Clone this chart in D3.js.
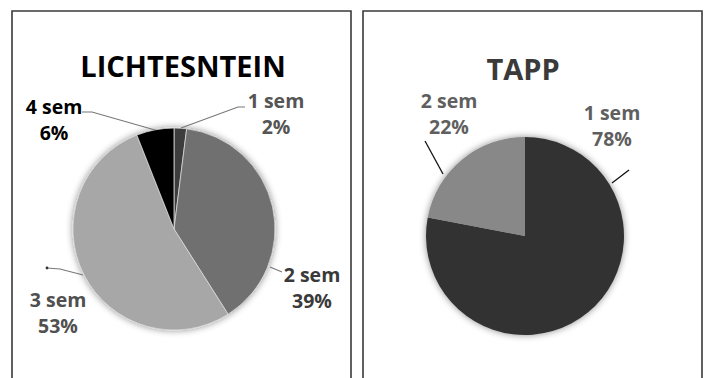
<!DOCTYPE html>
<html>
<head>
<meta charset="utf-8">
<script src="https://cdn.jsdelivr.net/npm/d3@7"></script>
<style>
  html, body { margin: 0; padding: 0; background: #fff; }
  svg { display: block; }
  text { font-family: "Open Sans", "Noto Sans", sans-serif; font-weight: bold; }
</style>
</head>
<body>
<svg id="chart" width="707" height="378"></svg>
<script>
// ---- data ----
const lichCategories = ["1 sem", "2 sem", "3 sem", "4 sem"];
const lichValues = [2, 39, 53, 6];
const tappCategories = ["1 sem", "2 sem"];
const tappValues = [78, 22];
const chartTitles = ["LICHTESNTEIN", "TAPP"];

// ---- styles / layout (not data) ----
const lichColors = ["#3c3c3c", "#6f6f6f", "#a7a7a7", "#060606"];
const tappColors = ["#333333", "#888888"];
const lichLabelColors = ["#555555", "#3a3a3a", "#505050", "#000000"];
const tappLabelColors = ["#5f5f5f", "#5f5f5f"];

const panels = [
  { x: 12, w: 339, cx: 174, cy: 229, r: 101, title: chartTitles[0], titleX: 183, titleY: 77, titleColor: "#000",
    cats: lichCategories, vals: lichValues, colors: lichColors, labelColors: lichLabelColors, sliceStroke: "#d8d8d8",
    labels: [[102, -121], [138, 53], [-116, 78], [-120, -115]],
    leaders: [
      [[7, -101], [64, -122], [71, -122]],
      [[96, 38], [108, 43]],
      [[-91, 46], [-114, 40], [-127, 39]],
      [[-19, -99], [-82, -117], [-92, -117]]
    ] },
  { x: 363, w: 339, cx: 525, cy: 236, r: 99, title: chartTitles[1], titleX: 523, titleY: 80, titleColor: "#3a3a3a",
    cats: tappCategories, vals: tappValues, colors: tappColors, labelColors: tappLabelColors, sliceStroke: "none",
    labels: [[87, -116], [-76, -128]],
    leaders: [
      [[87, -53], [104, -66]],
      [[-82, -62], [-100, -95]]
    ] }
];

const svg = d3.select("#chart");
const defs = svg.append("defs");
const f = defs.append("filter").attr("id", "shadow")
  .attr("x", "-20%").attr("y", "-20%").attr("width", "140%").attr("height", "140%");
f.append("feDropShadow").attr("dx", 0).attr("dy", 0).attr("stdDeviation", 3.5)
  .attr("flood-color", "#000").attr("flood-opacity", 0.45);

panels.forEach((p, pi) => {
  svg.append("path")
    .attr("d", `M${p.x},400 V11 H${p.x + p.w} V400`)
    .attr("fill", "none").attr("stroke", "#3a3a3a").attr("stroke-width", 1.6);

  svg.append("text").attr("x", p.titleX).attr("y", p.titleY)
    .attr("text-anchor", "middle").attr("font-size", 29)
    .attr("fill", p.titleColor).text(p.title);

  const pie = d3.pie().sort(null).value(d => d.v)
    .startAngle(0).endAngle(2 * Math.PI);
  const arcs = pie(p.cats.map((c, i) => ({ c, v: p.vals[i], i })));
  const arc = d3.arc().innerRadius(0).outerRadius(p.r);

  const g = svg.append("g").attr("transform", `translate(${p.cx},${p.cy})`);
  const pg = g.append("g").attr("filter", "url(#shadow)");
  pg.selectAll("path").data(arcs).join("path")
    .attr("d", arc)
    .attr("fill", d => p.colors[d.data.i])
    .attr("stroke", p.sliceStroke).attr("stroke-width", 0.8);

  g.selectAll("path.leader").data(arcs).join("path")
    .attr("class", "leader")
    .attr("d", d => d3.line()(p.leaders[d.data.i]))
    .attr("fill", "none")
    .attr("stroke", pi === 1 ? "#111" : "#777")
    .attr("stroke-width", pi === 1 ? 1.3 : 1.1);

  if (pi === 0) {
    // small end dot on the 3 sem leader
    const last = p.leaders[2][p.leaders[2].length - 1];
    g.append("circle").attr("cx", last[0]).attr("cy", last[1]).attr("r", 1.4).attr("fill", "#333");
  }

  const lab = g.selectAll("text.lab").data(arcs).join("text")
    .attr("class", "lab")
    .attr("text-anchor", "middle")
    .attr("font-size", 19.5)
    .attr("fill", d => p.labelColors[d.data.i]);
  lab.append("tspan")
    .attr("x", d => p.labels[d.data.i][0])
    .attr("y", d => p.labels[d.data.i][1])
    .text(d => d.data.c);
  lab.append("tspan")
    .attr("x", d => p.labels[d.data.i][0])
    .attr("y", d => p.labels[d.data.i][1] + 26)
    .text(d => Math.round(d.data.v) + "%");
});
</script>
</body>
</html>
